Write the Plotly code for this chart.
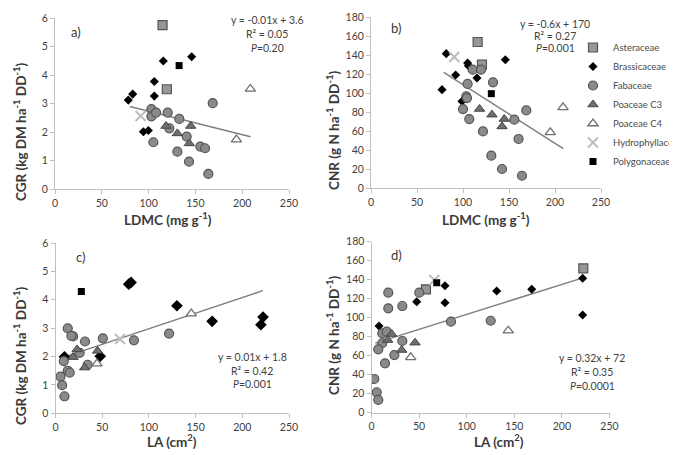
import plotly.graph_objects as go

W, H = 677, 455

# ---------------- Panel a: LDMC vs CGR ----------------
A_AST_X = [114.9, 119.5]
A_AST_Y = [5.75, 3.50]
A_BRA_X = [78.3, 83.0, 94.4, 99.7, 106.1, 106.1, 115.7, 146.0]
A_BRA_Y = [3.12, 3.33, 2.01, 2.05, 3.77, 3.26, 4.49, 4.64]
A_FAB_X = [103.0, 103.0, 108.0, 120.4, 132.8, 122.1, 140.7, 155.3, 160.3, 168.5, 105.1, 130.7, 143.2, 163.8]
A_FAB_Y = [2.80, 2.55, 2.68, 2.68, 2.46, 2.13, 1.84, 1.49, 1.43, 3.01, 1.64, 1.31, 0.96, 0.53]
A_C3_X = [118.6, 130.7, 145.0, 143.5]
A_C3_Y = [2.21, 1.95, 2.21, 1.60]
A_C4_X = [208.7, 193.8]
A_C4_Y = [3.51, 1.73]
A_HYD_X = [91.5]
A_HYD_Y = [2.56]
A_POL_X = [132.6]
A_POL_Y = [4.33]
A_FIT = (-0.0082, 3.55, 80, 209)

# ---------------- Panel b: LDMC vs CNR ----------------
B_AST_X = [115.9, 120.6]
B_AST_Y = [153.7, 129.8]
B_BRA_X = [81.8, 105.0, 105.8, 146.0, 92.0, 115.2, 77.2, 98.9]
B_BRA_Y = [141.4, 131.6, 128.7, 135.0, 118.9, 115.8, 103.5, 91.2]
B_FAB_X = [110.5, 119.6, 132.6, 105.0, 103.6, 104.3, 100.0, 106.8, 121.7, 168.8, 155.8, 160.4, 130.8, 142.4, 164.1]
B_FAB_Y = [124.5, 124.5, 111.2, 109.5, 96.4, 94.7, 83.1, 72.6, 59.6, 81.7, 71.9, 51.6, 34.0, 20.0, 12.9]
B_C3_X = [118.0, 131.5, 144.9, 142.4]
B_C3_Y = [83.2, 77.2, 72.6, 64.8]
B_C4_X = [208.7, 194.9]
B_C4_Y = [84.8, 58.5]
B_HYD_X = [90.5]
B_HYD_Y = [137.9]
B_POL_X = [130.8]
B_POL_Y = [99.3]
B_FIT = (-0.618, 170.5, 79, 209)

# ---------------- Panel c: LA vs CGR ----------------
C_BRA_X = [9.6, 47.9, 78.4, 80.9, 130.0, 167.7, 219.9, 222.2]
C_BRA_Y = [1.99, 2.01, 4.55, 4.61, 3.79, 3.24, 3.12, 3.39]
C_FAB_X = [13.1, 18.8, 17.0, 31.6, 50.7, 84.0, 121.6, 25.9, 8.9, 13.1, 15.2, 34.4, 5.3, 7.1, 9.6]
C_FAB_Y = [2.99, 2.71, 2.73, 2.53, 2.64, 2.57, 2.81, 2.13, 1.84, 1.50, 1.43, 1.71, 1.29, 0.99, 0.60]
C_C3_X = [23.1, 18.8, 45.0, 31.2]
C_C3_Y = [2.25, 1.98, 2.20, 1.61]
C_C4_X = [44.4, 145.4]
C_C4_Y = [1.75, 3.51]
C_HYD_X = [69.1]
C_HYD_Y = [2.62]
C_POL_X = [27.7]
C_POL_Y = [4.29]
C_FIT = (0.011, 1.88, 9, 222)

# ---------------- Panel d: LA vs CNR ----------------
D_AST_X = [57.2, 222.5]
D_AST_Y = [129.9, 152.0]
D_BRA_X = [7.9, 47.5, 77.2, 77.2, 131.5, 168.3, 221.8, 221.8]
D_BRA_Y = [91.3, 116.8, 133.7, 115.8, 128.1, 129.9, 141.5, 102.8]
D_FAB_X = [17.6, 50.2, 17.6, 32.4, 83.5, 125.2, 11.3, 16.0, 11.3, 7.1, 32.4, 24.0, 14.2, 2.9, 5.5, 7.1]
D_FAB_Y = [126.3, 126.3, 109.9, 112.3, 95.8, 96.8, 83.6, 85.3, 73.1, 66.7, 75.5, 60.7, 52.0, 35.5, 21.5, 13.4]
D_C3_X = [21.2, 17.0, 31.7, 45.7]
D_C3_Y = [82.8, 76.5, 66.0, 73.7]
D_C4_X = [41.2, 143.7]
D_C4_Y = [58.3, 86.3]
D_HYD_X = [66.0]
D_HYD_Y = [139.7]
D_POL_X = [68.5]
D_POL_Y = [136.8]
D_FIT = (0.315, 72.0, 4, 222)

FAMILIES = ["Asteraceae", "Brassicaceae", "Fabaceae", "Poaceae C3", "Poaceae C4",
            "Hydrophyllaceae", "Polygonaceae"]

EQ_A = ["y = -0.01x + 3.6", "R² = 0.05", "<i>P</i>=0.20"]
EQ_B = ["y = -0.6x + 170", "R² = 0.27", "<i>P</i>=0.001"]
EQ_C = ["y = 0.01x + 1.8", "R² = 0.42", "<i>P</i>=0.001"]
EQ_D = ["y = 0.32x + 72", "R² = 0.35", "<i>P</i>=0.0001"]

STYLE = {
    "Asteraceae": dict(symbol="square", size=9, color="#979797", line=dict(color="#555555", width=1.2)),
    "Brassicaceae": dict(symbol="diamond", size=7, color="#000000", line=dict(color="#000000", width=0)),
    "Fabaceae": dict(symbol="circle", size=9, color="#8a8a8a", line=dict(color="#555555", width=1.2)),
    "Poaceae C3": dict(symbol="triangle-up", size=9, color="#6f6f6f", line=dict(color="#444444", width=1)),
    "Poaceae C4": dict(symbol="triangle-up", size=9, color="#ffffff", line=dict(color="#6f6f6f", width=1.3)),
    "Hydrophyllaceae": dict(symbol="x-thin-open", size=10, color="#bdbdbd", line=dict(color="#bdbdbd", width=2)),
    "Polygonaceae": dict(symbol="square", size=7, color="#000000", line=dict(color="#000000", width=0)),
}

panels = [
    ("x", "y", [(A_AST_X, A_AST_Y), (A_BRA_X, A_BRA_Y), (A_FAB_X, A_FAB_Y), (A_C3_X, A_C3_Y),
                (A_C4_X, A_C4_Y), (A_HYD_X, A_HYD_Y), (A_POL_X, A_POL_Y)], A_FIT, False, 7),
    ("x2", "y2", [(B_AST_X, B_AST_Y), (B_BRA_X, B_BRA_Y), (B_FAB_X, B_FAB_Y), (B_C3_X, B_C3_Y),
                  (B_C4_X, B_C4_Y), (B_HYD_X, B_HYD_Y), (B_POL_X, B_POL_Y)], B_FIT, True, 7),
    ("x3", "y3", [([], []), (C_BRA_X, C_BRA_Y), (C_FAB_X, C_FAB_Y), (C_C3_X, C_C3_Y),
                  (C_C4_X, C_C4_Y), (C_HYD_X, C_HYD_Y), (C_POL_X, C_POL_Y)], C_FIT, False, 9),
    ("x4", "y4", [(D_AST_X, D_AST_Y), (D_BRA_X, D_BRA_Y), (D_FAB_X, D_FAB_Y), (D_C3_X, D_C3_Y),
                  (D_C4_X, D_C4_Y), (D_HYD_X, D_HYD_Y), (D_POL_X, D_POL_Y)], D_FIT, False, 7),
]

fig = go.Figure()
for xa, ya, series, fit, show, bsize in panels:
    slope, icpt, x0, x1 = fit
    fig.add_trace(go.Scatter(x=[x0, x1], y=[slope * x0 + icpt, slope * x1 + icpt], mode="lines",
                             line=dict(color="#808080", width=1.5), xaxis=xa, yaxis=ya,
                             showlegend=False, hoverinfo="skip"))
    for fam, (xs, ys) in zip(FAMILIES, series):
        st = dict(STYLE[fam])
        if fam == "Brassicaceae":
            st["size"] = bsize
        fig.add_trace(go.Scatter(x=xs, y=ys, mode="markers", name=fam, legendgroup=fam,
                                 showlegend=show, marker=st, xaxis=xa, yaxis=ya))

OFF = 8  # page body margin in the browser


def px_x(p):
    return (p - OFF) / W


def px_y(p):
    return 1 - (p - OFF) / H


# plot areas in screen pixels: (left, right, top, bottom)
AREAS = {
    "a": (55, 289, 18, 189),
    "b": (371, 601, 17, 188),
    "c": (55.5, 289, 243, 413.3),
    "d": (371.5, 609.5, 241.7, 412.7),
}

tickfont = dict(family="Lato, Open Sans, sans-serif", size=10.5, color="#3f3f3f")
axis_common = dict(showline=True, linecolor="#bfbfbf", linewidth=1, ticks="outside", ticklen=4,
                   tickcolor="#bfbfbf", showgrid=False, zeroline=False, tickfont=tickfont,
                   fixedrange=True)

layout_axes = {}
for key, ax in zip(["a", "b", "c", "d"], ["", "2", "3", "4"]):
    l, r, t, b = AREAS[key]
    yr = [0, 6] if key in ("a", "c") else [0, 180]
    ydt = 1 if key in ("a", "c") else 20
    layout_axes["xaxis" + ax] = dict(axis_common, domain=[px_x(l), px_x(r)], range=[0, 250],
                                     dtick=50, anchor="y" + ax)
    layout_axes["yaxis" + ax] = dict(axis_common, domain=[px_y(b), px_y(t)], range=yr,
                                     dtick=ydt, anchor="x" + ax)

fig.update_layout(**layout_axes)

ann = []
title_font = dict(family="Lato, Open Sans, sans-serif", size=13.5, color="#3a3a3a")


def add_text(text, x, y, font, angle=0, xanchor="center"):
    ann.append(dict(text=text, x=px_x(x), y=px_y(y), xref="paper", yref="paper",
                    showarrow=False, font=font, textangle=angle, xanchor=xanchor,
                    yanchor="middle"))


bold = lambda s: "<b>" + s + "</b>"
add_text(bold("LDMC (mg g<sup>-1</sup>)"), 168, 219, title_font)
add_text(bold("LDMC (mg g<sup>-1</sup>)"), 486, 219, title_font)
add_text(bold("LA (cm<sup>2</sup>)"), 172, 441, title_font)
add_text(bold("LA (cm<sup>2</sup>)"), 499, 441, title_font)
add_text(bold("CGR (kg DM ha<sup>-1</sup> DD<sup>-1</sup>)"), 20, 132, title_font, angle=-90)
add_text(bold("CNR (g N ha<sup>-1</sup> DD<sup>-1</sup>)"), 333, 131, title_font, angle=-90)
add_text(bold("CGR (kg DM ha<sup>-1</sup> DD<sup>-1</sup>)"), 20, 356, title_font, angle=-90)
add_text(bold("CNR (g N ha<sup>-1</sup> DD<sup>-1</sup>)"), 333, 336, title_font, angle=-90)

lab_font = dict(family="Lato, Open Sans, sans-serif", size=13, color="#3a3a3a")
add_text("a)", 76, 32, lab_font)
add_text("b)", 396, 28, lab_font)
add_text("c)", 80, 257, lab_font)
add_text("d)", 396, 255, lab_font)

eq_font = dict(family="Lato, Open Sans, sans-serif", size=10.5, color="#3f3f3f")
for lines, cx, ys in [(EQ_A, 267, (20, 34, 48)), (EQ_B, 555, (24, 36, 48)),
                      (EQ_C, 252, (357, 371, 384)), (EQ_D, 592, (358, 372, 386))]:
    for s, yy in zip(lines, ys):
        add_text(s, cx, yy, eq_font)

fig.update_layout(
    width=W, height=H,
    margin=dict(l=0, r=0, t=0, b=0, autoexpand=False),
    paper_bgcolor="white", plot_bgcolor="white",
    annotations=ann,
    showlegend=True,
    legend=dict(x=px_x(573), y=px_y(33), xanchor="left", yanchor="top",
                font=dict(family="Lato, Open Sans, sans-serif", size=9.5, color="#4a4a4a"),
                bgcolor="rgba(0,0,0,0)", tracegroupgap=0, itemclick=False),
)

fig.write_html("out.html")
